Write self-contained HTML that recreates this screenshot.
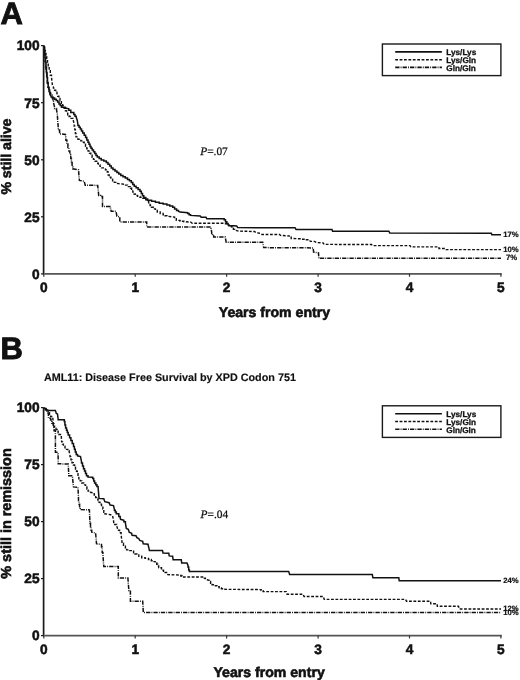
<!DOCTYPE html>
<html><head><meta charset="utf-8"><title>Survival curves</title>
<style>
html,body{margin:0;padding:0;background:#fff;}
body{width:520px;height:680px;overflow:hidden;}
svg{display:block;will-change:transform;}
text{font-family:"Liberation Sans",sans-serif;font-weight:bold;fill:#111;text-rendering:geometricPrecision;}
.big{font-size:31px;stroke:#111;stroke-width:0.9px;}
.tl{font-size:13.7px;stroke:#111;stroke-width:0.55px;}
.ax{font-size:14.1px;stroke:#111;stroke-width:0.6px;}
.lg{font-size:8.2px;stroke:#111;stroke-width:0.3px;}
.el{font-size:7.7px;stroke:#111;stroke-width:0.2px;}
.ttl{font-size:10.8px;stroke:#111;stroke-width:0.15px;}
.pv{font-family:"Liberation Serif",serif;font-weight:normal;font-size:11.4px;stroke:#111;stroke-width:0.25px;}
</style></head>
<body>
<svg width="520" height="680" viewBox="0 0 520 680">
<rect width="520" height="680" fill="#fff"/>
<text x="0.6" y="23.6" class="big">A</text>
<polyline points="44.0,45.8 44.0,48.2 44.5,48.2 44.5,53.0 45.0,53.0 45.0,57.8 45.5,57.8 45.5,62.6 46.0,62.6 46.0,65.0 46.0,65.0 46.0,67.5 46.5,67.5 46.5,72.5 47.0,72.5 47.0,77.5 47.5,77.5 47.5,80.0 47.5,80.0 47.5,82.5 48.2,82.5 48.2,87.5 49.0,87.5 49.0,90.0 49.0,90.0 49.0,91.4 49.8,91.4 49.8,94.1 50.6,94.1 50.6,95.5 50.6,95.5 51.2,96.5 51.2,97.0 52.9,97.0 52.9,98.0 54.6,98.0 54.6,98.5 54.6,98.5 54.6,99.2 56.2,99.2 56.2,100.5 57.7,100.5 57.7,101.2 57.7,101.2 57.7,102.1 59.0,102.1 59.0,103.9 60.2,103.9 60.2,105.6 61.5,105.6 61.5,106.5 61.5,106.5 61.5,107.3 65.4,107.3 65.4,108.1 65.4,108.1 68.8,108.8 68.8,110.2 70.8,110.2 70.8,111.5 70.8,111.5 70.8,112.5 73.8,112.5 73.8,113.5 73.8,113.5 73.8,114.5 75.0,114.5 75.0,116.3 76.2,116.3 76.2,117.3 76.2,117.3 77.3,120.4 77.9,124.5 77.9,125.4 79.1,125.4 79.1,127.3 80.3,127.3 80.3,128.2 80.3,128.2 80.3,129.1 81.5,129.1 81.5,131.0 82.7,131.0 82.7,132.0 82.7,132.0 82.7,133.1 84.2,133.1 84.2,135.2 85.6,135.2 85.6,136.3 85.6,136.3 85.6,137.5 86.8,137.5 86.8,140.0 88.0,140.0 88.0,141.2 88.0,141.2 88.0,142.2 89.0,142.2 89.0,144.3 90.0,144.3 90.0,146.4 91.0,146.4 91.0,147.4 91.0,147.4 91.0,148.2 92.2,148.2 92.2,149.9 93.5,149.9 93.5,150.8 93.5,150.8 93.5,151.7 94.8,151.7 94.8,153.6 96.0,153.6 96.0,155.4 97.3,155.4 97.3,156.3 97.3,156.3 97.3,157.1 99.2,157.1 99.2,158.6 101.2,158.6 101.2,159.3 101.2,159.3 101.2,159.9 103.8,159.9 103.8,161.0 106.3,161.0 106.3,161.5 106.3,161.5 106.3,162.4 108.0,162.4 108.0,164.2 109.7,164.2 109.7,166.1 111.3,166.1 111.3,167.9 113.0,167.9 113.0,168.8 113.0,168.8 113.0,169.6 115.0,169.6 115.0,171.1 116.9,171.1 116.9,172.6 118.8,172.6 118.8,174.1 120.8,174.1 120.8,174.8 120.8,174.8 120.8,175.5 123.0,175.5 123.0,176.8 125.3,176.8 125.3,178.0 127.5,178.0 127.5,178.7 127.5,178.7 127.5,179.4 129.4,179.4 129.4,180.8 131.3,180.8 131.3,181.5 131.3,181.5 131.3,182.5 132.8,182.5 132.8,184.4 134.2,184.4 134.2,185.4 134.2,185.4 134.2,186.2 136.1,186.2 136.1,187.8 138.1,187.8 138.1,189.4 140.0,189.4 140.0,190.2 140.0,190.2 140.0,191.3 141.3,191.3 141.3,193.6 142.5,193.6 142.5,195.8 143.8,195.8 143.8,196.9 143.8,196.9 143.8,197.6 145.8,197.6 145.8,199.1 147.7,199.1 147.7,199.8 147.7,199.8 147.7,200.3 151.6,200.3 151.6,201.2 155.4,201.2 155.4,201.7 155.4,201.7 155.4,202.2 159.2,202.2 159.2,203.2 163.1,203.2 163.1,204.1 166.9,204.1 166.9,204.6 166.9,204.6 166.9,205.1 169.8,205.1 169.8,206.0 172.7,206.0 172.7,206.5 172.7,206.5 172.7,207.3 174.6,207.3 174.6,208.9 176.6,208.9 176.6,210.5 178.5,210.5 178.5,211.3 178.5,211.3 180.0,212.1 187.7,212.7 187.7,213.4 189.1,213.4 189.1,214.7 190.6,214.7 190.6,215.4 190.6,215.4 200.2,216.0 201.2,217.3 206.0,217.3 206.9,218.8 224.2,218.8 224.2,219.8 225.5,219.8 225.5,221.7 226.8,221.7 226.8,223.6 228.1,223.6 228.1,224.6 228.1,224.6 229.0,225.6 236.7,226.0 237.7,227.6 295.0,227.7 296.0,229.4 332.0,229.4 332.6,231.2 388.8,231.2 389.8,232.9 491.3,233.2 491.8,234.8 501.0,234.8" fill="none" stroke="#111" stroke-width="1.5" stroke-linejoin="miter"/>
<polyline points="44.0,45.8 44.0,47.3 44.7,47.3 44.7,50.4 45.3,50.4 45.3,53.5 46.0,53.5 46.0,55.0 46.0,55.0 46.0,56.6 46.7,56.6 46.7,59.8 47.5,59.8 47.5,63.0 48.2,63.0 48.2,64.6 48.2,64.6 48.2,66.6 49.2,66.6 49.2,70.8 50.3,70.8 50.3,72.8 50.3,72.8 50.3,75.2 51.5,75.2 51.5,77.5 51.5,77.5 52.4,85.0 53.4,87.0 53.4,88.1 54.6,88.1 54.6,90.2 55.7,90.2 55.7,92.3 56.9,92.3 56.9,93.4 56.9,93.4 57.7,95.0 57.7,96.2 58.9,96.2 58.9,98.5 60.0,98.5 60.0,99.6 60.0,99.6 60.0,100.8 61.4,100.8 61.4,103.3 62.7,103.3 62.7,104.6 62.7,104.6 62.7,105.8 64.1,105.8 64.1,108.3 65.4,108.3 65.4,109.6 65.4,109.6 65.4,110.8 66.6,110.8 66.6,113.1 67.7,113.1 67.7,114.2 67.7,114.2 67.7,115.0 69.1,115.0 69.1,116.5 70.4,116.5 70.4,117.3 70.4,117.3 70.4,118.4 73.1,118.4 73.1,119.6 73.1,119.6 74.2,124.2 74.2,126.1 74.8,126.1 74.8,129.8 75.4,129.8 75.4,133.5 76.0,133.5 76.0,135.4 76.0,135.4 76.0,136.9 77.9,136.9 77.9,138.3 77.9,138.3 77.9,139.2 80.8,139.2 80.8,140.2 80.8,140.2 80.8,140.9 82.5,140.9 82.5,142.3 84.2,142.3 84.2,143.0 84.2,143.0 84.2,144.2 85.5,144.2 85.5,146.4 86.8,146.4 86.8,148.8 88.1,148.8 88.1,151.1 89.4,151.1 89.4,152.2 89.4,152.2 89.4,153.2 90.8,153.2 90.8,155.3 92.1,155.3 92.1,157.4 93.5,157.4 93.5,158.5 93.5,158.5 93.5,159.4 95.1,159.4 95.1,161.3 96.7,161.3 96.7,163.2 98.3,163.2 98.3,164.2 98.3,164.2 98.3,164.9 100.0,164.9 100.0,166.4 101.6,166.4 101.6,167.9 103.3,167.9 103.3,168.6 103.3,168.6 105.4,169.0 105.4,169.8 107.3,169.8 107.3,170.5 107.3,170.5 107.3,172.0 108.2,172.0 108.2,175.0 109.2,175.0 109.2,176.5 109.2,176.5 109.2,177.3 110.9,177.3 110.9,179.1 112.6,179.1 112.6,180.8 114.3,180.8 114.3,182.4 116.0,182.4 116.0,183.3 116.0,183.3 124.6,184.3 124.6,185.1 127.5,185.1 127.5,186.6 130.4,186.6 130.4,187.3 130.4,187.3 130.4,188.3 131.6,188.3 131.6,190.2 132.8,190.2 132.8,192.1 134.0,192.1 134.0,194.0 135.2,194.0 135.2,195.0 135.2,195.0 135.2,195.5 137.6,195.5 137.6,196.4 140.0,196.4 140.0,196.9 140.0,196.9 140.0,197.4 142.9,197.4 142.9,198.3 145.8,198.3 145.8,198.8 145.8,198.8 145.8,199.8 147.2,199.8 147.2,201.7 148.7,201.7 148.7,203.6 150.1,203.6 150.1,205.5 151.5,205.5 151.5,206.5 151.5,206.5 151.5,207.3 153.4,207.3 153.4,208.9 155.4,208.9 155.4,210.5 157.3,210.5 157.3,211.3 157.3,211.3 157.3,212.0 160.2,212.0 160.2,213.5 163.1,213.5 163.1,214.2 163.1,214.2 163.1,214.7 165.0,214.7 165.0,215.7 166.9,215.7 166.9,216.2 166.9,216.2 174.6,217.1 174.6,218.6 176.3,218.6 176.3,220.0 176.3,220.0 176.3,220.4 180.1,220.4 180.1,221.3 183.8,221.3 183.8,221.7 183.8,221.7 190.8,222.1 192.3,223.2 225.5,223.2 225.5,223.8 227.2,223.8 227.2,225.0 229.0,225.0 229.0,225.6 229.0,225.6 229.0,226.6 232.0,226.6 232.0,227.5 232.0,227.5 232.0,228.1 233.4,228.1 233.4,229.4 234.8,229.4 234.8,230.0 234.8,230.0 238.5,231.1 254.6,231.5 255.8,232.7 260.4,233.3 262.1,234.5 279.6,234.5 280.6,235.4 289.2,236.0 289.2,237.2 291.2,237.2 291.2,238.5 291.2,238.5 300.8,238.8 300.8,239.2 305.0,239.2 305.0,239.8 309.2,239.8 309.2,240.2 309.2,240.2 310.4,241.4 314.4,241.4 316.7,242.6 323.1,242.9 324.2,244.4 371.5,244.5 372.5,245.6 410.0,245.6 411.0,246.9 438.8,246.9 439.0,248.5 445.5,248.5 446.0,249.6 501.0,249.6" fill="none" stroke="#111" stroke-width="1.4" stroke-dasharray="2.8 1.6"/>
<polyline points="44.0,45.8 44.0,48.8 44.5,48.8 44.5,54.9 45.0,54.9 45.0,60.9 45.5,60.9 45.5,67.0 46.0,67.0 46.0,70.0 46.0,70.0 46.0,72.7 46.7,72.7 46.7,78.0 47.3,78.0 47.3,83.3 48.0,83.3 48.0,86.0 48.0,86.0 48.0,87.3 48.8,87.3 48.8,90.0 49.7,90.0 49.7,92.7 50.5,92.7 50.5,94.0 50.5,94.0 50.5,95.2 52.3,95.2 52.3,96.5 52.3,96.5 52.3,98.0 52.9,98.0 52.9,101.2 53.5,101.2 53.5,102.7 53.5,102.7 54.6,107.3 54.6,108.4 56.5,108.4 56.5,109.6 56.5,109.6 57.3,114.2 57.7,120.4 58.1,125.0 58.2,128.7 58.2,130.1 59.6,130.1 59.6,131.5 59.6,131.5 59.6,133.9 65.4,134.4 65.9,138.3 65.9,140.2 66.9,140.2 66.9,143.9 67.9,143.9 67.9,145.8 67.9,145.8 67.9,147.6 68.9,147.6 68.9,151.1 69.8,151.1 69.8,154.6 70.8,154.6 70.8,156.3 70.8,156.3 70.8,158.4 71.4,158.4 71.4,162.6 72.1,162.6 72.1,166.7 72.7,166.7 72.7,168.8 72.7,168.8 78.5,169.8 79.4,180.4 84.2,181.3 85.2,185.3 97.7,185.4 98.7,195.0 98.7,195.5 100.6,195.5 100.6,196.4 102.5,196.4 102.5,196.9 102.5,196.9 102.5,206.5 110.2,206.5 111.2,211.3 116.0,211.3 116.9,216.2 119.8,217.1 119.8,221.9 146.7,221.9 146.7,227.0 210.8,227.0 211.7,232.3 211.7,233.5 212.7,233.5 212.7,235.9 213.7,235.9 213.7,237.1 213.7,237.1 225.2,237.1 226.2,242.3 262.7,242.3 263.7,247.6 313.2,247.9 313.6,252.1 318.5,252.8 318.8,258.3 501.0,258.3" fill="none" stroke="#111" stroke-width="1.5" stroke-dasharray="4.3 1.1 0.9 1.1"/>
<line x1="43.6" y1="45.300000000000004" x2="43.6" y2="274.7" stroke="#1a1a1a" stroke-width="1.7"/>
<line x1="44.4" y1="273.9" x2="501.8" y2="273.9" stroke="#555" stroke-width="1.9"/>
<line x1="41.0" y1="45.6" x2="43.6" y2="45.6" stroke="#1a1a1a" stroke-width="1.2"/>
<text x="39.6" y="50.4" text-anchor="end" class="tl">100</text>
<line x1="41.0" y1="102.7" x2="43.6" y2="102.7" stroke="#1a1a1a" stroke-width="1.2"/>
<text x="39.6" y="107.5" text-anchor="end" class="tl">75</text>
<line x1="41.0" y1="159.8" x2="43.6" y2="159.8" stroke="#1a1a1a" stroke-width="1.2"/>
<text x="39.6" y="164.6" text-anchor="end" class="tl">50</text>
<line x1="41.0" y1="216.8" x2="43.6" y2="216.8" stroke="#1a1a1a" stroke-width="1.2"/>
<text x="39.6" y="221.6" text-anchor="end" class="tl">25</text>
<line x1="41.0" y1="273.9" x2="43.6" y2="273.9" stroke="#1a1a1a" stroke-width="1.2"/>
<text x="39.6" y="278.7" text-anchor="end" class="tl">0</text>
<line x1="43.8" y1="273.9" x2="43.8" y2="276.7" stroke="#333" stroke-width="1.2"/>
<text x="43.8" y="292.3" text-anchor="middle" class="tl">0</text>
<line x1="135.2" y1="273.9" x2="135.2" y2="276.7" stroke="#333" stroke-width="1.2"/>
<text x="135.2" y="292.3" text-anchor="middle" class="tl">1</text>
<line x1="226.6" y1="273.9" x2="226.6" y2="276.7" stroke="#333" stroke-width="1.2"/>
<text x="226.6" y="292.3" text-anchor="middle" class="tl">2</text>
<line x1="318.1" y1="273.9" x2="318.1" y2="276.7" stroke="#333" stroke-width="1.2"/>
<text x="318.1" y="292.3" text-anchor="middle" class="tl">3</text>
<line x1="409.5" y1="273.9" x2="409.5" y2="276.7" stroke="#333" stroke-width="1.2"/>
<text x="409.5" y="292.3" text-anchor="middle" class="tl">4</text>
<line x1="500.9" y1="273.9" x2="500.9" y2="276.7" stroke="#333" stroke-width="1.2"/>
<text x="500.9" y="292.3" text-anchor="middle" class="tl">5</text>
<text transform="translate(11.3 156.6) rotate(-90)" text-anchor="middle" class="ax" style="font-size:14.1px">% still alive</text>
<text x="218.8" y="316.5" class="ax">Years from entry</text>
<text x="200.2" y="155.2" class="pv"><tspan font-style="italic">P</tspan>=.07</text>
<rect x="382.4" y="44.0" width="118.5" height="31.6" fill="none" stroke="#1a1a1a" stroke-width="1.4"/>
<line x1="395.2" y1="51.9" x2="441.9" y2="51.9" stroke="#111" stroke-width="1.6" />
<text x="446.3" y="55.3" class="lg">Lys/Lys</text>
<line x1="395.2" y1="59.7" x2="441.9" y2="59.7" stroke="#111" stroke-width="1.6" stroke-dasharray="2.8 1.6"/>
<text x="446.3" y="63.1" class="lg">Lys/Gln</text>
<line x1="395.2" y1="67.4" x2="441.9" y2="67.4" stroke="#111" stroke-width="1.6" stroke-dasharray="4.3 1.1 0.9 1.1"/>
<text x="446.3" y="70.8" class="lg">Gln/Gln</text>
<text x="503.2" y="237.4" class="el">17%</text>
<text x="503.2" y="252.2" class="el">10%</text>
<text x="506" y="260.3" class="el">7%</text>
<text x="0.6" y="358.6" class="big">B</text>
<text x="43.9" y="381.0" class="ttl">AML11: Disease Free Survival by XPD Codon 751</text>
<polyline points="44.0,408.2 46.0,408.5 47.0,410.4 55.4,410.4 56.3,413.5 57.5,414.0 58.2,419.7 64.3,419.7 64.3,421.4 64.9,421.4 64.9,424.9 65.6,424.9 65.6,426.7 65.6,426.7 65.6,427.9 66.5,427.9 66.5,430.2 67.3,430.2 67.3,432.6 68.2,432.6 68.2,433.8 68.2,433.8 68.2,435.1 69.6,435.1 69.6,437.7 70.9,437.7 70.9,439.0 70.9,439.0 70.9,440.6 72.2,440.6 72.2,443.6 73.5,443.6 73.5,445.2 73.5,445.2 73.5,446.5 74.4,446.5 74.4,449.2 75.3,449.2 75.3,451.9 76.2,451.9 76.2,453.2 76.2,453.2 76.2,454.5 77.5,454.5 77.5,455.8 77.5,455.8 80.5,456.5 81.5,461.5 81.5,463.1 82.5,463.1 82.5,466.1 83.5,466.1 83.5,467.7 83.5,467.7 83.5,468.8 84.5,468.8 84.5,471.1 85.5,471.1 85.5,473.4 86.5,473.4 86.5,474.5 86.5,474.5 86.5,475.8 88.0,475.8 88.0,477.0 88.0,477.0 92.7,477.3 92.7,478.5 93.7,478.5 93.7,480.9 94.6,480.9 94.6,482.1 94.6,482.1 94.6,483.0 95.8,483.0 95.8,484.7 96.9,484.7 96.9,486.4 98.1,486.4 98.1,487.3 98.1,487.3 99.0,498.4 103.8,498.8 104.8,501.7 109.1,502.7 110.1,505.1 113.5,505.6 114.4,509.4 114.4,510.2 115.3,510.2 115.3,511.9 116.3,511.9 116.3,512.8 116.3,512.8 116.3,513.8 118.8,513.8 118.8,514.7 118.8,514.7 118.8,516.4 120.2,516.4 120.2,518.1 120.2,518.1 120.6,519.3 123.9,520.3 123.9,521.8 125.4,521.8 125.4,523.2 125.4,523.2 126.3,528.5 128.3,529.4 129.2,532.3 131.6,533.3 132.1,535.2 136.0,535.7 136.9,537.6 138.8,538.6 139.8,540.5 142.7,541.4 143.2,543.8 148.0,544.3 148.9,548.2 149.4,550.6 162.5,550.6 163.0,553.0 168.8,553.3 169.2,555.9 172.6,556.2 173.1,559.7 181.3,559.7 181.7,563.1 187.0,563.1 188.0,565.5 188.0,567.0 188.7,567.0 188.7,569.9 189.4,569.9 189.4,571.4 189.4,571.4 288.7,571.4 289.6,574.4 372.3,574.4 372.9,577.7 398.8,577.7 399.2,580.8 501.0,580.8" fill="none" stroke="#111" stroke-width="1.5" stroke-linejoin="miter"/>
<polyline points="44.0,408.2 46.2,409.0 46.2,410.4 48.4,410.4 48.4,411.7 48.4,411.7 48.4,412.6 49.5,412.6 49.5,414.3 50.6,414.3 50.6,415.2 50.6,415.2 50.6,416.5 52.8,416.5 52.8,417.9 52.8,417.9 53.2,422.3 53.2,423.6 53.9,423.6 53.9,426.3 54.6,426.3 54.6,427.6 54.6,427.6 54.6,428.2 55.9,428.2 55.9,429.5 57.2,429.5 57.2,430.2 57.2,430.2 57.2,431.1 58.1,431.1 58.1,432.9 59.0,432.9 59.0,433.8 59.0,433.8 59.0,434.5 61.2,434.5 61.2,435.1 61.2,435.1 61.6,440.8 61.6,441.9 62.5,441.9 62.5,444.1 63.4,444.1 63.4,445.2 63.4,445.2 63.4,446.1 65.0,446.1 65.0,447.9 66.5,447.9 66.5,448.8 66.5,448.8 66.5,449.4 67.8,449.4 67.8,450.8 69.1,450.8 69.1,451.4 69.1,451.4 70.0,455.0 70.0,456.6 71.0,456.6 71.0,459.9 72.0,459.9 72.0,461.5 72.0,461.5 72.0,462.7 73.3,462.7 73.3,465.0 74.6,465.0 74.6,466.2 74.6,466.2 74.6,467.1 75.5,467.1 75.5,469.0 76.5,469.0 76.5,470.0 76.5,470.0 76.5,471.3 77.3,471.3 77.3,473.8 78.0,473.8 78.0,476.4 78.8,476.4 78.8,477.7 78.8,477.7 78.8,478.8 80.2,478.8 80.2,480.9 81.7,480.9 81.7,482.0 81.7,482.0 81.7,483.0 83.7,483.0 83.7,484.9 85.6,484.9 85.6,485.9 85.6,485.9 85.6,486.9 86.9,486.9 86.9,489.0 88.1,489.0 88.1,491.1 89.4,491.1 89.4,492.1 89.4,492.1 94.2,493.1 94.2,495.0 95.7,495.0 95.7,496.9 95.7,496.9 95.7,497.6 96.9,497.6 96.9,499.1 98.1,499.1 98.1,499.8 98.1,499.8 98.1,500.6 99.0,500.6 99.0,502.3 100.0,502.3 100.0,503.2 100.0,503.2 100.0,504.3 101.5,504.3 101.5,506.4 102.9,506.4 102.9,507.5 102.9,507.5 102.9,509.1 103.8,509.1 103.8,512.2 104.8,512.2 104.8,513.8 104.8,513.8 110.6,514.7 112.5,515.7 113.5,520.0 113.8,523.5 113.8,524.5 116.7,524.5 116.7,525.6 116.7,525.6 117.7,529.4 117.7,530.3 119.6,530.3 119.6,531.3 119.6,531.3 119.6,532.8 121.1,532.8 121.1,534.2 121.1,534.2 121.5,538.1 122.0,541.9 122.0,543.3 123.5,543.3 123.5,544.8 123.5,544.8 123.5,546.2 125.4,546.2 125.4,547.7 125.4,547.7 125.4,548.4 126.6,548.4 126.6,549.9 127.8,549.9 127.8,550.6 127.8,550.6 132.1,550.6 132.1,551.3 133.6,551.3 133.6,552.8 135.0,552.8 135.0,553.5 135.0,553.5 135.0,554.0 136.9,554.0 136.9,554.9 138.8,554.9 138.8,555.4 138.8,555.4 138.8,556.3 141.7,556.3 141.7,557.3 141.7,557.3 141.7,557.7 145.1,557.7 145.1,558.4 148.5,558.4 148.5,558.8 148.5,558.8 148.5,559.5 151.3,559.5 151.3,560.2 151.3,560.2 151.3,560.7 153.2,560.7 153.2,561.6 155.2,561.6 155.2,562.1 155.2,562.1 155.2,562.8 156.7,562.8 156.7,563.4 156.7,563.4 156.7,564.3 157.7,564.3 157.7,566.0 158.7,566.0 158.7,566.9 158.7,566.9 158.7,567.8 161.5,567.8 161.5,568.8 161.5,568.8 161.5,570.2 163.5,570.2 163.5,571.7 163.5,571.7 163.5,572.5 167.3,572.5 167.3,573.2 167.3,573.2 167.8,574.6 180.8,575.1 180.8,576.0 182.2,576.0 182.2,577.0 182.2,577.0 203.5,577.0 203.5,578.2 205.4,578.2 205.4,579.4 205.4,579.4 209.2,580.4 209.2,581.4 210.6,581.4 210.6,583.2 212.1,583.2 212.1,584.2 212.1,584.2 212.1,584.7 214.5,584.7 214.5,585.7 216.9,585.7 216.9,586.2 216.9,586.2 216.9,586.7 219.2,586.7 219.2,587.8 221.4,587.8 221.4,588.8 223.7,588.8 223.7,589.3 223.7,589.3 261.2,589.6 261.2,590.6 263.1,590.6 263.1,591.6 263.1,591.6 286.2,591.6 287.0,594.2 303.1,594.2 304.0,596.5 323.3,596.5 324.2,599.4 405.6,599.4 406.5,601.3 430.6,601.3 430.8,603.8 437.1,603.8 437.3,606.2 458.5,606.2 459.4,609.0 501.0,609.0" fill="none" stroke="#111" stroke-width="1.4" stroke-dasharray="2.8 1.6"/>
<polyline points="44.0,408.2 45.5,409.0 45.5,409.9 47.0,409.9 47.0,410.8 47.0,410.8 47.0,413.0 48.4,413.0 48.4,415.2 48.4,415.2 48.4,418.3 50.6,418.3 50.6,420.0 51.9,420.0 51.9,423.3 53.2,423.3 53.2,425.0 53.2,425.0 54.1,429.4 54.1,430.7 55.4,430.7 55.4,432.0 55.4,432.0 55.4,451.4 55.4,452.3 56.8,452.3 56.8,453.2 56.8,453.2 58.1,454.0 58.2,463.8 68.2,464.0 68.8,475.0 68.8,475.8 72.4,475.8 72.4,476.5 72.4,476.5 73.5,486.9 78.0,487.3 78.5,498.8 78.5,500.6 79.1,500.6 79.1,504.2 79.6,504.2 79.6,507.8 80.2,507.8 80.2,509.6 80.2,509.6 89.4,509.9 89.9,521.5 89.9,523.3 90.5,523.3 90.5,526.8 91.1,526.8 91.1,530.3 91.7,530.3 91.7,532.1 91.7,532.1 95.6,533.1 96.5,543.7 101.5,544.5 101.5,547.1 102.2,547.1 102.2,552.4 102.9,552.4 102.9,555.0 102.9,555.0 103.8,566.5 118.3,566.5 118.3,578.1 127.9,578.1 128.8,589.6 128.8,590.5 130.4,590.5 130.4,591.5 130.4,591.5 130.4,601.2 142.7,601.2 143.3,612.5 501.0,612.5" fill="none" stroke="#111" stroke-width="1.5" stroke-dasharray="4.3 1.1 0.9 1.1"/>
<line x1="43.6" y1="407.3" x2="43.6" y2="636.4" stroke="#1a1a1a" stroke-width="1.7"/>
<line x1="44.4" y1="635.6" x2="501.8" y2="635.6" stroke="#555" stroke-width="1.9"/>
<line x1="41.0" y1="407.6" x2="43.6" y2="407.6" stroke="#1a1a1a" stroke-width="1.2"/>
<text x="39.6" y="412.4" text-anchor="end" class="tl">100</text>
<line x1="41.0" y1="464.6" x2="43.6" y2="464.6" stroke="#1a1a1a" stroke-width="1.2"/>
<text x="39.6" y="469.4" text-anchor="end" class="tl">75</text>
<line x1="41.0" y1="521.6" x2="43.6" y2="521.6" stroke="#1a1a1a" stroke-width="1.2"/>
<text x="39.6" y="526.4" text-anchor="end" class="tl">50</text>
<line x1="41.0" y1="578.6" x2="43.6" y2="578.6" stroke="#1a1a1a" stroke-width="1.2"/>
<text x="39.6" y="583.4" text-anchor="end" class="tl">25</text>
<line x1="41.0" y1="635.6" x2="43.6" y2="635.6" stroke="#1a1a1a" stroke-width="1.2"/>
<text x="39.6" y="640.4" text-anchor="end" class="tl">0</text>
<line x1="43.8" y1="635.6" x2="43.8" y2="638.4" stroke="#333" stroke-width="1.2"/>
<text x="43.8" y="654.0" text-anchor="middle" class="tl">0</text>
<line x1="135.2" y1="635.6" x2="135.2" y2="638.4" stroke="#333" stroke-width="1.2"/>
<text x="135.2" y="654.0" text-anchor="middle" class="tl">1</text>
<line x1="226.6" y1="635.6" x2="226.6" y2="638.4" stroke="#333" stroke-width="1.2"/>
<text x="226.6" y="654.0" text-anchor="middle" class="tl">2</text>
<line x1="318.1" y1="635.6" x2="318.1" y2="638.4" stroke="#333" stroke-width="1.2"/>
<text x="318.1" y="654.0" text-anchor="middle" class="tl">3</text>
<line x1="409.5" y1="635.6" x2="409.5" y2="638.4" stroke="#333" stroke-width="1.2"/>
<text x="409.5" y="654.0" text-anchor="middle" class="tl">4</text>
<line x1="500.9" y1="635.6" x2="500.9" y2="638.4" stroke="#333" stroke-width="1.2"/>
<text x="500.9" y="654.0" text-anchor="middle" class="tl">5</text>
<text transform="translate(11.3 513.5) rotate(-90)" text-anchor="middle" class="ax" style="font-size:14.4px">% still in remission</text>
<text x="213.5" y="676.5" class="ax">Years from entry</text>
<text x="200.6" y="518.3" class="pv"><tspan font-style="italic">P</tspan>=.04</text>
<rect x="382.4" y="405.8" width="118.5" height="31.6" fill="none" stroke="#1a1a1a" stroke-width="1.4"/>
<line x1="395.2" y1="413.7" x2="441.9" y2="413.7" stroke="#111" stroke-width="1.6" />
<text x="446.3" y="417.1" class="lg">Lys/Lys</text>
<line x1="395.2" y1="421.5" x2="441.9" y2="421.5" stroke="#111" stroke-width="1.6" stroke-dasharray="2.8 1.6"/>
<text x="446.3" y="424.9" class="lg">Lys/Gln</text>
<line x1="395.2" y1="429.2" x2="441.9" y2="429.2" stroke="#111" stroke-width="1.6" stroke-dasharray="4.3 1.1 0.9 1.1"/>
<text x="446.3" y="432.6" class="lg">Gln/Gln</text>
<text x="503.2" y="583.4" class="el">24%</text>
<text x="503.2" y="611.4" class="el">12%</text>
<text x="503.2" y="614.8" class="el">10%</text>
</svg>
</body></html>
